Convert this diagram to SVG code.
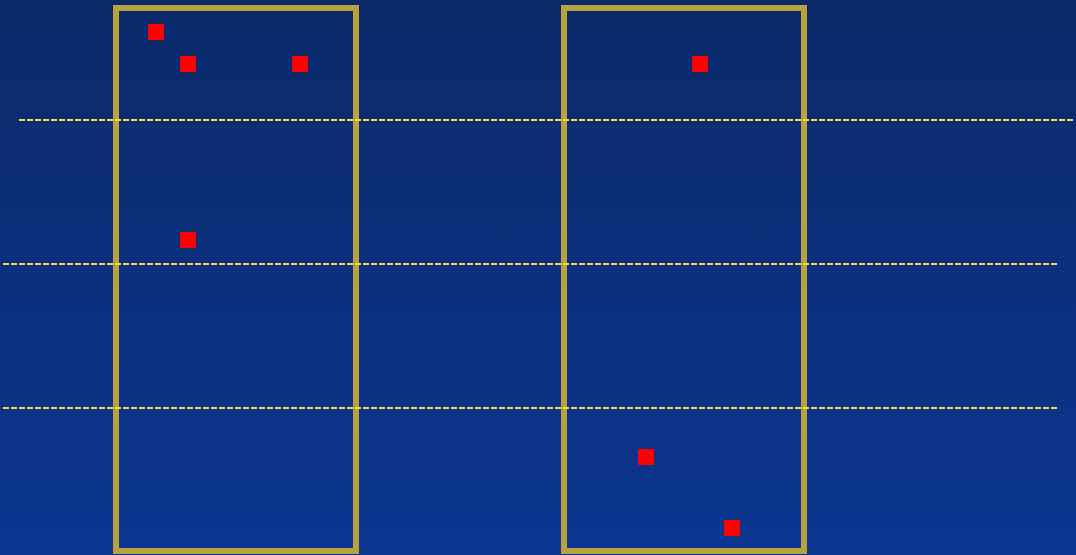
<svg xmlns="http://www.w3.org/2000/svg" width="1076" height="555" viewBox="0 0 1076 555">
  <defs>
    <linearGradient id="bg" x1="0" y1="0" x2="0" y2="1">
      <stop offset="0" stop-color="#0c296a"/>
      <stop offset="1" stop-color="#0b3690"/>
    </linearGradient>
    <style>
      .box { fill: none; stroke: #b8a23e; stroke-width: 6; }
      .dash { stroke: #f5d84a; stroke-width: 2; stroke-dasharray: 6 2; fill: none; }
      .pt { fill: #ff0000; }
    </style>
  </defs>
  <rect x="0" y="0" width="1076" height="555" fill="url(#bg)"/>
  <g id="columns">
    <rect id="col-left" class="box" x="116" y="8" width="240" height="543"/>
    <rect id="col-right" class="box" x="564" y="8" width="240" height="543"/>
  </g>
  <g id="connectors">
    <line class="dash" x1="19" y1="120" x2="1073" y2="120"/>
    <line class="dash" x1="3" y1="264" x2="1057" y2="264"/>
    <line class="dash" x1="3" y1="408" x2="1057" y2="408"/>
  </g>
  <g id="points">
    <rect id="p1" class="pt" x="148" y="24" width="16" height="16"/>
    <rect id="p2" class="pt" x="180" y="56" width="16" height="16"/>
    <rect id="p3" class="pt" x="292" y="56" width="16" height="16"/>
    <rect id="p4" class="pt" x="180" y="232" width="16" height="16"/>
    <rect id="p5" class="pt" x="692" y="56" width="16" height="16"/>
    <rect id="p6" class="pt" x="638" y="449" width="16" height="16"/>
    <rect id="p7" class="pt" x="724" y="520" width="16" height="16"/>
  </g>
</svg>
